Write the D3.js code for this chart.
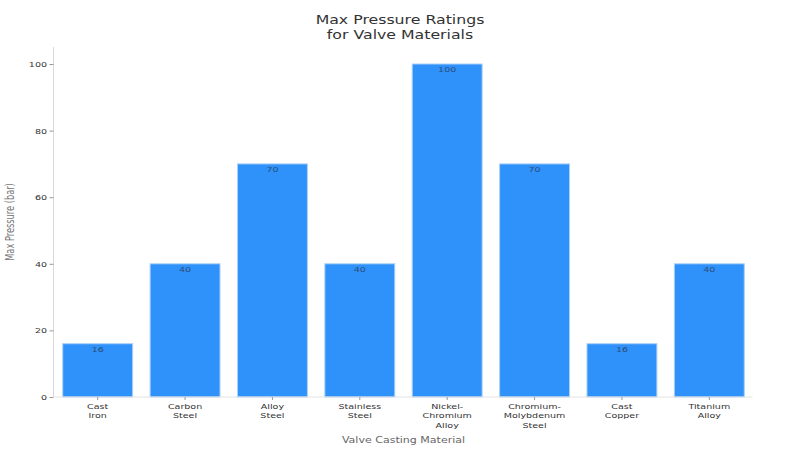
<!DOCTYPE html>
<html><head><meta charset="utf-8">
<script src="https://cdn.jsdelivr.net/npm/d3@7"></script>
<style>html,body{margin:0;padding:0;background:#fff}svg{display:block}text{font-family:"DejaVu Sans",sans-serif}</style>
</head><body><svg id="c" width="800" height="450"></svg>
<script>
const categories = ["Cast Iron","Carbon Steel","Alloy Steel","Stainless Steel","Nickel-Chromium Alloy","Chromium-Molybdenum Steel","Cast Copper","Titanium Alloy"];
const tickLines = [["Cast","Iron"],["Carbon","Steel"],["Alloy","Steel"],["Stainless","Steel"],["Nickel-","Chromium","Alloy"],["Chromium-","Molybdenum","Steel"],["Cast","Copper"],["Titanium","Alloy"]];
const pressures = [16,40,70,40,100,70,16,40];
const yTicks = [0,20,40,60,80,100];
const titleLines = ["Max Pressure Ratings","for Valve Materials"];

const svg = d3.select("#c");
const sx = 1.27;
const fs = 7.5;
const x = d3.scaleBand().domain(categories).range([54,753]).paddingInner(0.2).paddingOuter(0.1);
const y = d3.scaleLinear().domain([0,100]).range([397,64]);

svg.append("g").selectAll("rect").data(pressures).join("rect")
  .attr("x",(d,i)=>x(categories[i])).attr("width",x.bandwidth())
  .attr("y",d=>y(d)).attr("height",d=>y(0)-y(d))
  .attr("fill","#2f91fa").attr("stroke","#a9d0f7").attr("stroke-width",1);

const yAxis = svg.append("g").attr("transform","translate(53.5,0)")
  .call(d3.axisLeft(y).tickValues(yTicks).tickSize(4).tickPadding(3));
yAxis.select(".domain").attr("d","M0,47V397").attr("stroke","#d9d9d9").attr("fill","none");
yAxis.selectAll(".tick line").attr("stroke","#999");
yAxis.selectAll(".tick text").attr("font-size",fs).attr("fill","#333").attr("font-family","DejaVu Sans")
  .attr("transform","scale("+sx+",1)").attr("x",-6.5/sx);

const xAxis = svg.append("g").attr("transform","translate(0,397)")
  .call(d3.axisBottom(x).tickSize(3).tickFormat(""));
xAxis.select(".domain").attr("d","M53.5,0H752.5").attr("stroke","#e3e3e3").attr("fill","none");
xAxis.selectAll(".tick line").attr("stroke","#999");
xAxis.selectAll(".tick").each(function(d,i){
  const t = d3.select(this).select("text").text(null)
    .attr("font-size",fs).attr("fill","#333").attr("font-family","DejaVu Sans")
    .attr("transform","scale("+sx+",1)").attr("y",null).attr("dy",null);
  tickLines[i].forEach((s,k)=>t.append("tspan").attr("x",0).attr("y",12+k*9.5).text(s));
});

svg.append("g").selectAll("text").data(pressures).join("text")
  .attr("text-anchor","middle").attr("font-size",fs).attr("fill","#2c4f78")
  .attr("transform",(d,i)=>"translate("+(x(categories[i])+x.bandwidth()/2)+","+(y(d)+8)+") scale("+sx+",1)")
  .text(d=>d);

svg.append("g").selectAll("text").data(titleLines).join("text")
  .attr("text-anchor","middle").attr("font-size",11.5).attr("fill","#333")
  .attr("transform",(d,i)=>"translate(400,"+(23.5+i*15)+") scale(1.37,1)")
  .text(d=>d);

svg.append("text").attr("text-anchor","middle").attr("font-size",8).attr("fill","#666")
  .attr("transform","translate(403.5,443) scale(1.38,1)").text("Valve Casting Material");

svg.append("text").attr("text-anchor","middle").attr("font-size",12.5).attr("fill","#777")
  .attr("transform","translate(14,222) rotate(-90) scale(0.66,1)").text("Max Pressure (bar)");
</script></body></html>
